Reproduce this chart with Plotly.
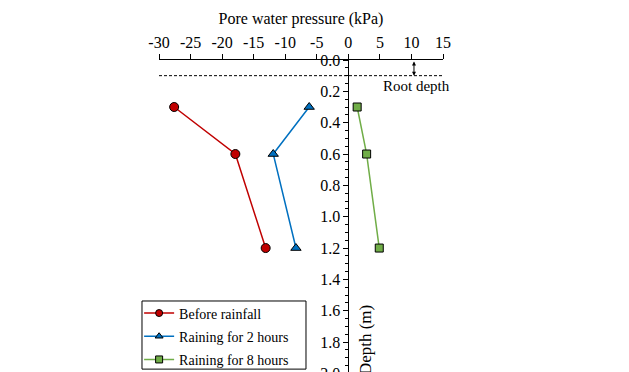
import plotly.graph_objects as go

depth = [0.3, 0.6, 1.2]
before_rain = [-27.6, -17.9, -13.1]
rain_2h = [-6.2, -11.9, -8.3]
rain_8h = [1.4, 2.9, 4.9]
series_names = ["Before rainfall", "Raining for 2 hours", "Raining for 8 hours"]
x_ticks = [-30, -25, -20, -15, -10, -5, 0, 5, 10, 15]
x_ticktext = ["-30", "-25", "-20", "-15", "-10", "-5", "0", "5", "10", "15"]
y_ticks = [0.0, 0.2, 0.4, 0.6, 0.8, 1.0, 1.2, 1.4, 1.6, 1.8, 2.0]
root_depth = 0.1

FONT = "Liberation Serif"

fig = go.Figure()
styles = [
    ("#C00000", "circle", "#C00000"),
    ("#0070C0", "triangle-up", "#0070C0"),
    ("#70AD47", "square", "#70AD47"),
]
for name, vals, (lc, sym, fc) in zip(series_names, [before_rain, rain_2h, rain_8h], styles):
    fig.add_trace(go.Scatter(
        x=vals, y=depth, name=name, mode="lines+markers", showlegend=False,
        line=dict(color=lc, width=1.5),
        marker=dict(symbol=sym, size=9 if sym != "square" else 8, color=fc,
                    line=dict(color="black", width=1)),
    ))
# legend-only entries with smaller symbols
for i, (name, (lc, sym, fc)) in enumerate(zip(series_names, styles)):
    fig.add_trace(go.Scatter(
        x=[None], y=[None], name=name, mode="lines+markers", legendgroup=f"g{i}",
        line=dict(color=lc, width=1.5),
        marker=dict(symbol=sym, size=7, color=fc, line=dict(color="black", width=1)),
    ))

# legend frame
fig.add_shape(type="rect", xref="paper", yref="paper",
              x0=-0.0599, x1=0.5176, y0=0.034, y1=0.2469,
              line=dict(color="black", width=1), fillcolor="white", layer="below")

fig.add_shape(type="line", x0=-30, x1=15, y0=root_depth, y1=root_depth,
              xref="x", yref="y", line=dict(color="black", width=1, dash="3px,2px"))

fig.add_annotation(x=10.4, y=root_depth, ax=10.4, ay=0.0, xref="x", yref="y",
                   axref="x", ayref="y", text="", showarrow=True,
                   arrowhead=2, startarrowhead=2, arrowside="end+start",
                   arrowsize=0.8, arrowwidth=1, arrowcolor="black")
fig.add_annotation(x=10.8, y=0.165, xref="x", yref="y", text="Root depth",
                   showarrow=False, font=dict(family=FONT, size=15, color="black"))
fig.add_annotation(x=2.7, y=1.785, xref="x", yref="y", text="Depth (m)",
                   textangle=-90, showarrow=False,
                   font=dict(family=FONT, size=17, color="black"))

fig.update_layout(
    width=629, height=372,
    margin=dict(l=151, r=194, t=52, b=0, autoexpand=False),
    paper_bgcolor="white", plot_bgcolor="white",
    font=dict(family=FONT, size=16, color="black"),
    showlegend=True,
    legend=dict(x=-0.07, y=0.258, xanchor="left", yanchor="top",
                borderwidth=0, bgcolor="rgba(0,0,0,0)",
                font=dict(family=FONT, size=14, color="black"),
                itemwidth=30, tracegroupgap=2),
    xaxis=dict(range=[-30, 15], side="top", tickvals=x_ticks, ticktext=x_ticktext,
               ticks="outside", ticklen=5, tickcolor="black", automargin=False,
               showline=True, linecolor="black", linewidth=1,
               showgrid=False, zeroline=False,
               title=dict(text="Pore water pressure (kPa)", standoff=4,
                          font=dict(family=FONT, size=16)),
               tickfont=dict(family=FONT, size=16)),
    yaxis=dict(range=[2.042, 0], anchor="free", position=2/3, side="left",
               tickvals=y_ticks, tickformat=".1f", automargin=False,
               ticklabeloverflow="allow",
               ticks="outside", ticklen=5, tickcolor="black",
               minor=dict(dtick=0.05, ticks="outside", ticklen=3, tickcolor="black"),
               showline=True, linecolor="black", linewidth=1,
               showgrid=False, zeroline=False,
               tickfont=dict(family=FONT, size=16)),
)

fig.write_html("out.html")
